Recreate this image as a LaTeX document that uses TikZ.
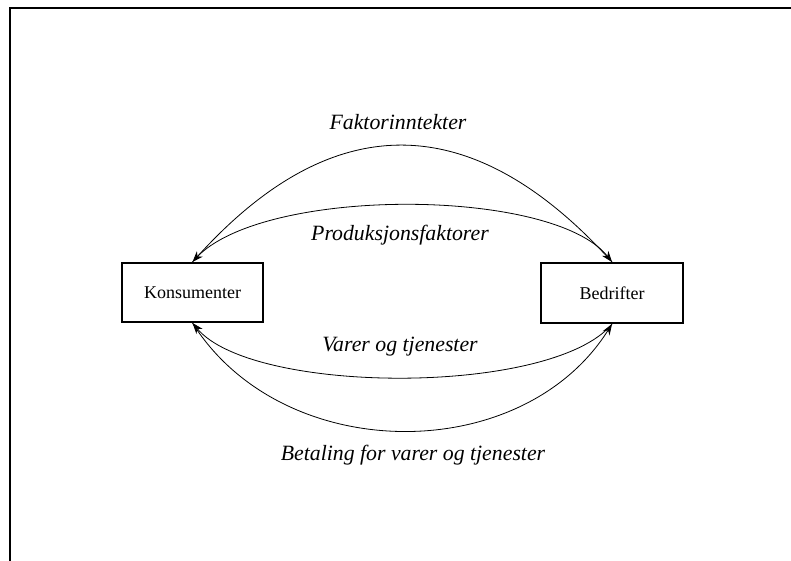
\documentclass[tikz,border=0pt]{standalone}
\usepackage{fontspec}
\setmainfont{Liberation Serif}
\usetikzlibrary{arrows.meta}
\begin{document}
\begin{tikzpicture}[x=1pt,y=-1pt,
  boxnode/.style={draw,line width=2pt,inner sep=0pt,font=\fontsize{18}{20}\selectfont},
  flowlabel/.style={font=\fontsize{21.8}{24}\selectfont\itshape,inner sep=0pt},
  flow/.style={line width=0.8pt,-{Stealth[length=11pt,width=8pt]}}]
\useasboundingbox (0,0) rectangle (791,560);
\draw[line width=2.8pt] (10,561) -- (10,8) -- (792,8);
\node[boxnode,minimum width=141pt,minimum height=59pt] (k) at (192.5,292.5) {Konsumenter};
\node[boxnode,minimum width=142pt,minimum height=60pt] (b) at (612,293) {Bedrifter};
\node[flowlabel] (l1) at (398,122) {Faktorinntekter};
\node[flowlabel] (l2) at (400,235) {Produksjonsfaktorer};
\node[flowlabel] (l3) at (400,347) {Varer og tjenester};
\node[flowlabel] (l4) at (413,455) {Betaling for varer og tjenester};
\draw[flow] (b.north) .. controls +(-140,-155) and +(140,-155) .. (k.north);
\draw[flow] (k.north) .. controls +(60,-76) and +(-60,-76) .. (b.north);
\draw[flow] (b.south) .. controls +(-60,72) and +(60,72) .. (k.south);
\draw[flow] (k.south) .. controls +(90,143) and +(-90,143) .. (b.south);
\end{tikzpicture}
\end{document}
